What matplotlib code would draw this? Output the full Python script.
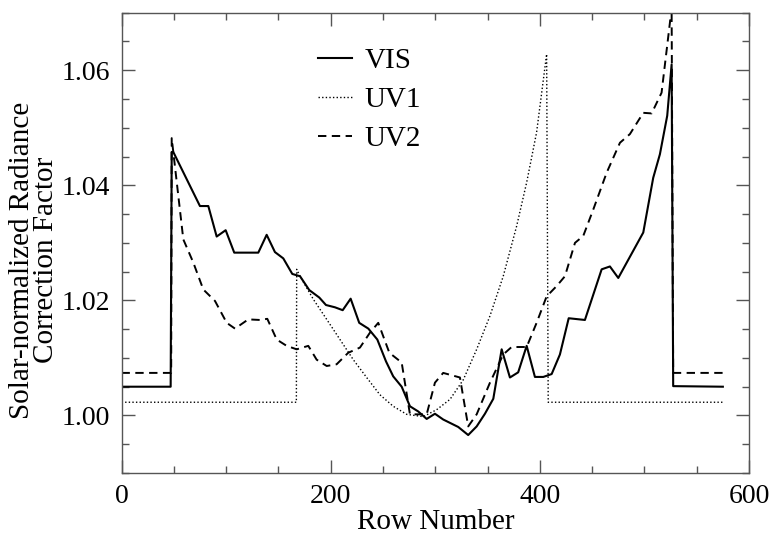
import matplotlib
matplotlib.use("Agg")
import matplotlib.pyplot as plt
from matplotlib.ticker import MultipleLocator, FormatStrFormatter

plt.rcParams['font.family'] = ['Liberation Serif', 'DejaVu Serif']

# VIS (solid)
vis_x = [0, 47, 48, 49.5, 75.0, 83.0, 91.0, 99.6, 107.8, 130.8, 138.8, 146.7, 154.7, 163.3,
         170.7, 179.5, 189.1, 195.5, 204.1, 211.5, 219.1, 227.3, 236.0, 244.6, 252.9,
         259.8, 267.9, 275.8, 283.7, 291.8, 299.7, 307.6, 322.0, 331.5, 339.6, 347.5,
         355.5, 363.5, 371.4, 379.3, 387.4, 395.3, 403.3, 411.3, 419.2, 427.6, 443.1,
         459.1, 467.0, 475.0, 498.9, 508.4, 514.8, 521.8, 526.0, 527.5, 575]
vis_y = [1.0050, 1.0050, 1.0458, 1.0458, 1.0364, 1.0364, 1.0311, 1.0322, 1.0283, 1.0283,
         1.0314, 1.0284, 1.0273, 1.0246, 1.0242, 1.0218, 1.0205, 1.0192, 1.0188, 1.0183,
         1.0203, 1.0161, 1.0151, 1.0132, 1.0094, 1.0068, 1.0050, 1.0016, 1.0007, 0.9994,
         1.0003, 0.9993, 0.9980, 0.9966, 0.9981, 1.0003, 1.0029, 1.0115, 1.0066, 1.0075,
         1.0121, 1.0067, 1.0067, 1.0072, 1.0106, 1.0169, 1.0166, 1.0254, 1.0259, 1.0239,
         1.0318, 1.0413, 1.0454, 1.0521, 1.0610, 1.0051, 1.0050]

# UV1 (dotted)
uv1_x = [0, 167.2, 167.5, 170.7, 183.4, 196.2, 208.9, 221.6, 234.4, 247.1, 259.8, 272.7,
         288.5, 301.3, 314.1, 326.8, 339.6, 352.3, 365.0, 377.8, 387.4, 396.9, 406.5,
         408.0, 575]
uv1_y = [1.0023, 1.0023, 1.0254, 1.0242, 1.0202, 1.0167, 1.0132, 1.0097, 1.0066, 1.0036,
         1.0016, 1.0002, 0.9998, 1.0010, 1.0028, 1.0062, 1.0115, 1.0173, 1.0242, 1.0329,
         1.0405, 1.0492, 1.0628, 1.0023, 1.0023]

# UV2 (dashed)
uv2_x = [0, 47.5, 48, 59.1, 68.6, 78.2, 89.4, 100.6, 108.5, 121.2, 132.4, 139.4, 148.4,
         157.9, 167.5, 178.6, 186.6, 196.2, 205.7, 216.8, 228.0, 237.6, 245.5, 256.1,
         267.9, 275.8, 291.8, 299.7, 307.6, 323.6, 331.5, 339.6, 352.3, 365.0, 373.0,
         387.4, 396.9, 406.5, 416.1, 424.0, 433.6, 441.5, 451.1, 463.9, 476.6, 486.1,
         498.9, 506.9, 516.4, 524.4, 526.0, 527.5, 575]
uv2_y = [1.0074, 1.0074, 1.0482, 1.0306, 1.0266, 1.0219, 1.0199, 1.0161, 1.0151, 1.0167,
         1.0166, 1.0168, 1.0132, 1.0121, 1.0115, 1.0121, 1.0097, 1.0086, 1.0089, 1.0109,
         1.0118, 1.0144, 1.0161, 1.0109, 1.0092, 1.0002, 1.0002, 1.0057, 1.0074, 1.0066,
         0.9981, 1.0002, 1.0057, 1.0106, 1.0119, 1.0119, 1.0161, 1.0207, 1.0225, 1.0242,
         1.0300, 1.0312, 1.0358, 1.0422, 1.0474, 1.0489, 1.0526, 1.0525, 1.0561, 1.0683,
         1.0710, 1.0074, 1.0074]

x_ticks = [0, 200, 400, 600]
y_ticks = [1.00, 1.02, 1.04, 1.06]

fig = plt.figure(figsize=(7.69, 5.34), dpi=100)
ax = fig.add_axes([0.158, 0.1142, 0.816, 0.862])

ax.plot(vis_x, vis_y, color='black', lw=1.5, ls='-', label='VIS')
ax.plot(uv1_x, uv1_y, color='black', lw=1.0, ls=(0, (1, 1.6)), label='UV1')
ax.plot(uv2_x, uv2_y, color='black', lw=1.4, ls=(0, (4.3, 2.8)), label='UV2')

ax.set_xlim(0, 600)
ax.set_ylim(0.99, 1.07)
ax.set_xticks(x_ticks)
ax.set_yticks(y_ticks)
ax.yaxis.set_major_formatter(FormatStrFormatter('%.2f'))
ax.xaxis.set_minor_locator(MultipleLocator(50))
ax.yaxis.set_minor_locator(MultipleLocator(0.005))

for s in ax.spines.values():
    s.set_color('#555555')
    s.set_linewidth(1.0)

ax.tick_params(which='both', direction='in', top=True, right=True, colors='#555555',
               labelcolor='black', labelsize=20)
ax.tick_params(which='major', length=9.5, width=1.0, pad=8)
ax.tick_params(which='minor', length=5, width=1.0)

ax.set_xlabel('Row Number', fontsize=21, labelpad=0)
fig.text(0.044, 0.513, 'Solar-normalized Radiance\nCorrection Factor', rotation=90,
         ha='center', va='center', fontsize=21, linespacing=0.92, multialignment='center')

leg = ax.legend(loc='upper left', bbox_to_anchor=(0.29, 0.955), frameon=False,
                fontsize=21, handlelength=1.15, handletextpad=0.45, labelspacing=0.42,
                borderpad=0.0)

fig.savefig('out.png', dpi=100)
